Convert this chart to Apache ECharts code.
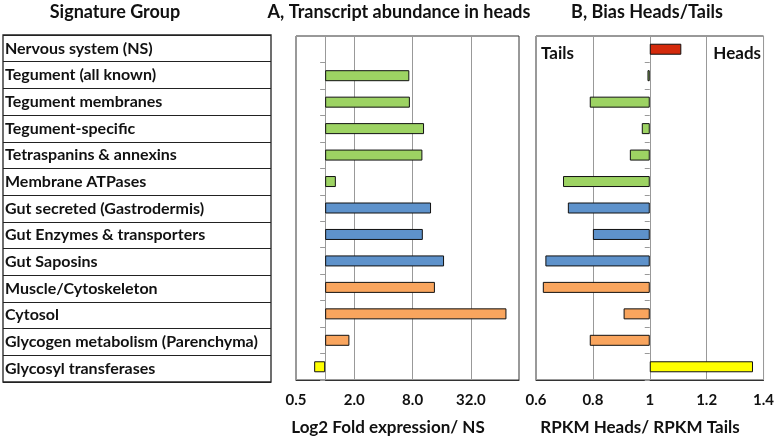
<!DOCTYPE html>
<html>
<head>
<meta charset="utf-8">
<script src="https://cdn.jsdelivr.net/npm/echarts@6/dist/echarts.min.js"></script>
<style>html,body{margin:0;padding:0;background:#fff;}#c{width:777px;height:447px;}</style>
</head>
<body>
<div id="c"></div>
<script>
// ---- data ----
const groups = [
  'Nervous system (NS)',
  'Tegument (all known)',
  'Tegument membranes',
  'Tegument-specific',
  'Tetraspanins & annexins',
  'Membrane ATPases',
  'Gut secreted (Gastrodermis)',
  'Gut Enzymes & transporters',
  'Gut Saposins',
  'Muscle/Cytoskeleton',
  'Cytosol',
  'Glycogen metabolism (Parenchyma)',
  'Glycosyl transferases'
];
const groupType = ['ns','teg','teg','teg','teg','teg','gut','gut','gut','mus','mus','mus','gly'];
// A: fold expression relative to NS (NS itself = 1)
const foldA = [1, 7.4, 7.5, 10.5, 10.1, 1.29, 12.4, 10.2, 16.9, 13.6, 74.5, 1.78, 0.77];
// B: RPKM heads / RPKM tails
const ratioB = [1.111, 0.992, 0.789, 0.972, 0.93, 0.695, 0.712, 0.8, 0.633, 0.624, 0.908, 0.789, 1.363];
const ticksA = ['0.5', '2.0', '8.0', '32.0'];
const ticksB = ['0.6', '0.8', '1', '1.2', '1.4'];

// ---- styles ----
const typeColor = {ns:'#D42A0C', teg:'#9DD363', gut:'#5E92CB', mus:'#F9A55E', gly:'#FFFF00'};
const FONT = 'Lato';
const chart = echarts.init(document.getElementById('c'), null, {renderer:'canvas'});

function barItems(vals, tf) {
  return vals.map((v, i) => {
    const t = tf(v);
    return {
      value: t === 0 ? '-' : t,
      itemStyle: {color: typeColor[groupType[i]], borderColor: '#111', borderWidth: 1}
    };
  });
}

const catAxisCommon = {
  type: 'category', data: groups, inverse: true,
  axisLabel: {show: false},
  axisTick: {show: true, interval: 0, length: 5, inside: false, lineStyle: {color: '#999'}},
  axisLine: {show: true, onZero: true, lineStyle: {color: '#999', width: 1}},
  splitLine: {show: false}
};

const option = {
  animation: false,
  textStyle: {fontFamily: FONT},
  grid: [
    {left: 3, right: 506, top: 35, bottom: 65, show: true, borderColor: '#222', borderWidth: 1.3},
    {left: 296, right: 258, top: 36, bottom: 67, show: true, borderColor: '#333', borderWidth: 1},
    {left: 536, right: 12, top: 36, bottom: 67, show: true, borderColor: '#333', borderWidth: 1}
  ],
  xAxis: [
    {gridIndex: 0, type: 'value', show: false, min: 0, max: 1},
    {gridIndex: 1, type: 'value', min: -1, max: 6.65, interval: 2,
     axisLine: {show: true, onZero: false, lineStyle: {color: '#333'}},
     axisTick: {show: false},
     axisLabel: {showMaxLabel: false, margin: 13, color: '#111', fontFamily: FONT, fontWeight: 'bold', fontSize: 15,
       formatter: (v) => ticksA[Math.round((v + 1) / 2)] || ''},
     splitLine: {show: true, lineStyle: {color: '#999', width: 1}}},
    {gridIndex: 2, type: 'value', min: -0.4, max: 0.4, interval: 0.2,
     axisLine: {show: true, onZero: false, lineStyle: {color: '#333'}},
     axisTick: {show: false},
     axisLabel: {margin: 13, color: '#111', fontFamily: FONT, fontWeight: 'bold', fontSize: 15,
       formatter: (v) => ticksB[Math.round((v + 0.4) / 0.2)] || ''},
     splitLine: {show: true, lineStyle: {color: '#999', width: 1}}}
  ],
  yAxis: [
    {gridIndex: 0, type: 'category', data: groups, inverse: true,
     axisLine: {show: false}, axisTick: {show: false},
     axisLabel: {show: true, inside: true, interval: 0, margin: 2, color: '#111', fontFamily: FONT, fontWeight: 'bold', fontSize: 16},
     splitLine: {show: true, interval: 0, lineStyle: {color: '#222', width: 1.2}}},
    Object.assign({gridIndex: 1}, catAxisCommon),
    Object.assign({gridIndex: 2}, catAxisCommon)
  ],
  series: [
    {type: 'bar', xAxisIndex: 1, yAxisIndex: 1, barWidth: 11,
     data: barItems(foldA, v => Math.log2(v))},
    {type: 'bar', xAxisIndex: 2, yAxisIndex: 2, barWidth: 11,
     data: barItems(ratioB, v => v - 1)}
  ],
  graphic: [
    {type: 'text', style: {text: 'Signature Group', x: 115, y: 12, align: 'center', verticalAlign: 'middle', font: 'bold 18px ' + FONT, fill: '#111'}},
    {type: 'text', style: {text: 'A, Transcript abundance in heads', x: 399, y: 12, align: 'center', verticalAlign: 'middle', font: 'bold 18px ' + FONT, fill: '#111'}},
    {type: 'text', style: {text: 'B, Bias Heads/Tails', x: 647, y: 12, align: 'center', verticalAlign: 'middle', font: 'bold 18px ' + FONT, fill: '#111'}},
    {type: 'text', style: {text: 'Log2 Fold expression/ NS', x: 388, y: 428, align: 'center', verticalAlign: 'middle', font: 'bold 17px ' + FONT, fill: '#111'}},
    {type: 'text', style: {text: 'RPKM Heads/ RPKM Tails', x: 640, y: 428, align: 'center', verticalAlign: 'middle', font: 'bold 17px ' + FONT, fill: '#111'}},
    {type: 'text', style: {text: 'Tails', x: 541, y: 54, align: 'left', verticalAlign: 'middle', font: 'bold 17px ' + FONT, fill: '#111'}},
    {type: 'text', style: {text: 'Heads', x: 761, y: 54, align: 'right', verticalAlign: 'middle', font: 'bold 17px ' + FONT, fill: '#111'}}
  ]
};
chart.setOption(option);
</script>
</body>
</html>
